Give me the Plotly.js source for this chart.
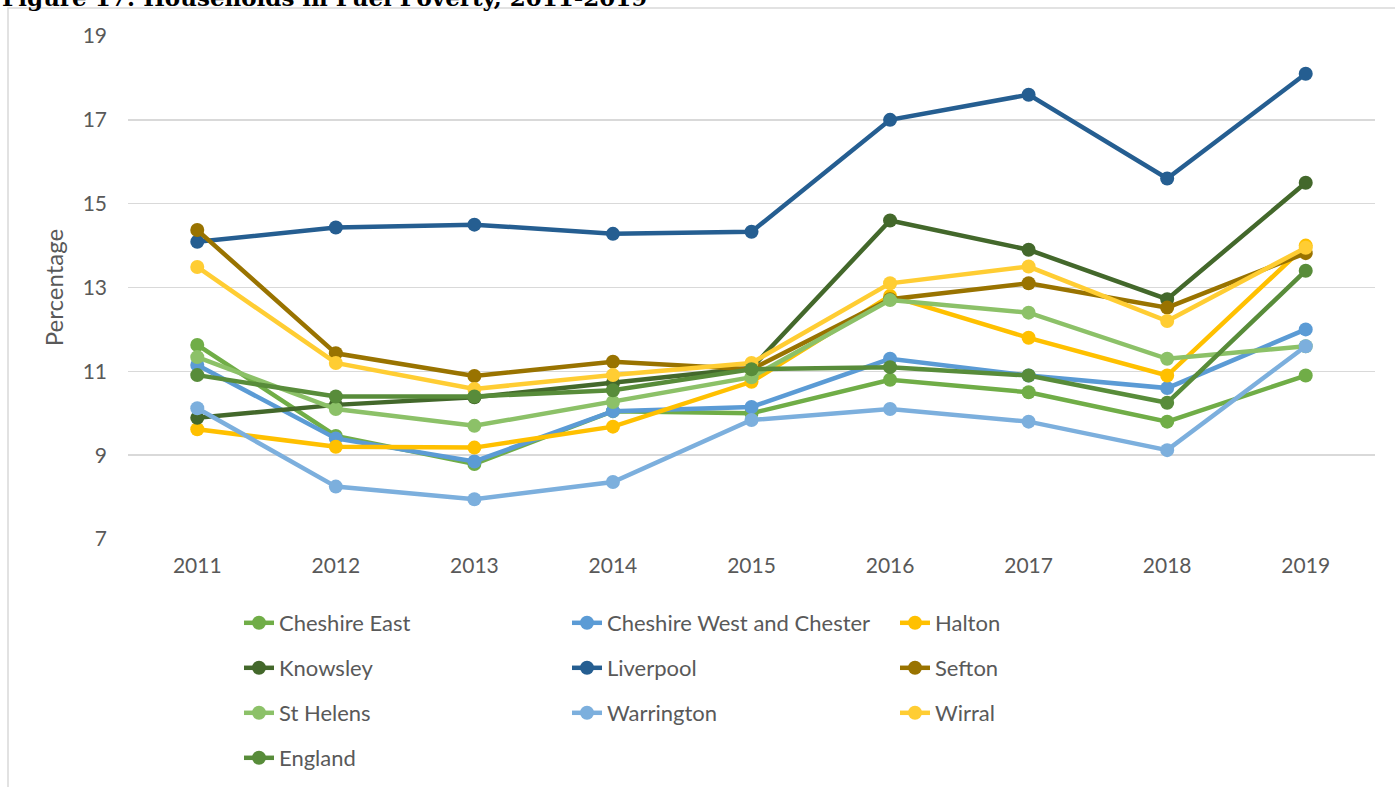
<!DOCTYPE html>
<html>
<head>
<meta charset="utf-8">
<script src="https://cdn.plot.ly/plotly-3.0.1.min.js"></script>
<style>html,body{margin:0;padding:0;background:#fff;}#chart{width:1395px;height:787px;}</style>
</head>
<body>
<div id="chart"></div>
<script>
var years = ["2011","2012","2013","2014","2015","2016","2017","2018","2019"];
var cheshireEast = [11.63, 9.46, 8.79, 10.05, 10.0, 10.8, 10.5, 9.8, 10.9];
var cheshireWest = [11.15, 9.4, 8.85, 10.05, 10.15, 11.3, 10.9, 10.6, 12.0];
var halton = [9.62, 9.2, 9.18, 9.68, 10.75, 12.8, 11.8, 10.9, 14.0];
var knowsley = [9.89, 10.2, 10.38, 10.72, 11.08, 14.6, 13.9, 12.72, 15.5];
var liverpool = [14.09, 14.43, 14.5, 14.28, 14.33, 17.0, 17.6, 15.6, 18.1];
var sefton = [14.37, 11.43, 10.89, 11.23, 11.05, 12.72, 13.1, 12.52, 13.82];
var stHelens = [11.34, 10.1, 9.7, 10.27, 10.86, 12.7, 12.4, 11.3, 11.6];
var warrington = [10.12, 8.25, 7.95, 8.36, 9.84, 10.1, 9.8, 9.12, 11.6];
var wirral = [13.49, 11.2, 10.58, 10.91, 11.2, 13.1, 13.5, 12.2, 13.95];
var england = [10.91, 10.4, 10.4, 10.55, 11.05, 11.1, 10.9, 10.25, 13.4];
var yTicks = [7, 9, 11, 13, 15, 17, 19];

var seriesNames = ["Cheshire East","Cheshire West and Chester","Halton","Knowsley","Liverpool","Sefton","St Helens","Warrington","Wirral","England"];
var seriesValues = [cheshireEast, cheshireWest, halton, knowsley, liverpool, sefton, stHelens, warrington, wirral, england];
var colors = ["#70AD47","#5B9BD5","#FFC000","#43682B","#255E91","#997300","#8CC168","#7CAFDD","#FFCD33","#588C3A"];
var legendIds = ["legend","legend","legend","legend2","legend2","legend2","legend3","legend3","legend3","legend4"];

var traces = seriesNames.map(function(n, i){
  return {
    type: "scatter", mode: "lines+markers", name: n,
    x: years, y: seriesValues[i],
    line: {color: colors[i], width: 4.5},
    marker: {color: colors[i], size: 14},
    legend: legendIds[i],
    hoverinfo: "skip"
  };
});

var L = 128, T = 36, W = 1247, H = 503;
function px(x){ return (x - L) / W; }
function py(y){ return (T + H - y) / H; }

var FONT = "Lato, 'Open Sans', sans-serif";
var legendBase = {
  orientation: "h", xanchor: "left", yanchor: "middle",
  x: px(239), entrywidth: 283, entrywidthmode: "pixels",
  font: {family: FONT, size: 22, color: "#595959"},
  bgcolor: "rgba(0,0,0,0)", itemclick: false, itemdoubleclick: false
};
function leg(y){ var o = JSON.parse(JSON.stringify(legendBase)); o.y = py(y); return o; }

var layout = {
  width: 1395, height: 787,
  margin: {l: L, r: 1395 - L - W, t: T, b: 787 - T - H, autoexpand: false},
  paper_bgcolor: "#ffffff", plot_bgcolor: "#ffffff",
  font: {family: FONT, color: "#595959"},
  xaxis: {
    type: "category", range: [-0.5, 8.5], showgrid: false, zeroline: false, showline: false,
    ticks: "", ticklabelstandoff: 12, automargin: false,
    tickfont: {family: FONT, size: 21, color: "#595959"},
    fixedrange: true
  },
  yaxis: {
    range: [7, 19], tickvals: yTicks, ticktext: yTicks.map(String),
    showgrid: true, gridcolor: "#D9D9D9", gridwidth: 1.5, zeroline: false, showline: false,
    ticks: "", ticklabelstandoff: 20, automargin: false,
    tickfont: {family: FONT, size: 21, color: "#595959"},
    title: {text: "Percentage", standoff: 12, font: {family: FONT, size: 24, color: "#595959"}},
    fixedrange: true
  },
  legend: leg(623), legend2: leg(668), legend3: leg(713), legend4: leg(758),
  annotations: [{
    text: "<b>Figure 17: Households in Fuel Poverty, 2011-2019</b>",
    xref: "paper", yref: "paper", x: px(0), y: py(-3),
    xanchor: "left", yanchor: "middle", showarrow: false,
    font: {family: "'DejaVu Serif', 'Liberation Serif', serif", size: 23, color: "#000000"}
  }],
  shapes: [{
    type: "rect", xref: "paper", yref: "paper",
    x0: px(8), x1: px(1420), y0: py(8), y1: py(800),
    line: {color: "#D9D9D9", width: 1.5}, fillcolor: "rgba(0,0,0,0)", layer: "below"
  }],
  hovermode: false
};

Plotly.newPlot("chart", traces, layout, {displayModeBar: false, staticPlot: true});
</script>
</body>
</html>
